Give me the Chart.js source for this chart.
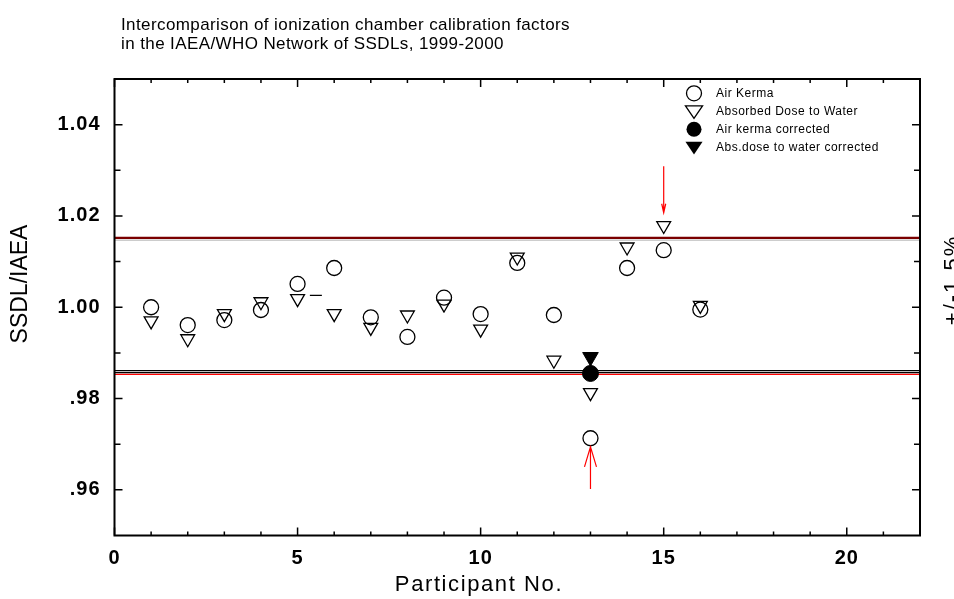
<!DOCTYPE html>
<html><head><meta charset="utf-8">
<script src="https://cdn.jsdelivr.net/npm/chart.js@4"></script>
<style>html,body{margin:0;padding:0;background:#fff}#wrap{width:954px;height:599px;position:relative}</style>
</head><body><div id="wrap"><canvas id="c"></canvas></div>
<script>
// ---- data ----
const participants = [1,2,3,4,5,6,7,8,9,10,11,12,13,14,15,16];
const airKerma = [1.0000,0.9961,0.9972,0.9994,1.0051,1.0086,0.9978,0.9935,1.0021,0.9985,1.0097,0.9983,0.9713,1.0086,1.0125,0.9995];
const absDoseWater = [0.9970,0.9931,0.9986,1.0012,1.0019,0.9986,0.9956,0.9983,1.0007,0.9952,1.0110,0.9884,0.9813,1.0132,1.0179,1.0004];
const correctedX = [13];
const airKermaCorrected = [0.9855];
const absDoseCorrected = [0.9891];
const dashX = [5.5];
const dashY = [1.0026];
const refLineValues = [1.0147, 1.0152, 0.9861, 0.9857, 0.9853];
const arrowX = [15, 13];
const arrowFrom = [1.0309, 0.9602];
const arrowTo = [1.0207, 0.9694];
const xTickValues = [0,5,10,15,20];
const xTickLabels = ['0','5','10','15','20'];
const yTickValues = [0.96,0.98,1.00,1.02,1.04];
const yTickLabels = ['.96','.98','1.00','1.02','1.04'];
const titleLines = ['Intercomparison of ionization chamber calibration factors','in the IAEA/WHO Network of SSDLs, 1999-2000'];
const xTitle = 'Participant No.';
const yTitle = 'SSDL/IAEA';
const rightTitle = '+/-1.5%';
const legendLabels = ['Air Kerma','Absorbed Dose to Water','Air kerma corrected','Abs.dose to water corrected'];

const FONT = '"Liberation Sans", Arial, Helvetica, sans-serif';
const refColors = ['#b0b0b0','#7a0000','#000000','#000000','#ff0000'];
const refWidths = [1, 2.2, 1.2, 1.2, 1.2];

const pts = (xs, ys) => xs.map((x,i)=>({x, y: ys[i]}));
const datasets = [
  {label: legendLabels[0], data: pts(participants, airKerma), pointStyle:'circle', pointRadius:7.5, pointBorderWidth:1.3, pointBorderColor:'#000', pointBackgroundColor:'rgba(0,0,0,0)', showLine:false, order:1},
  {label: legendLabels[1], data: pts(participants, absDoseWater), pointStyle:'triangle', pointRotation:180, pointRadius:8, pointBorderWidth:1.3, pointBorderColor:'#000', pointBackgroundColor:'rgba(0,0,0,0)', showLine:false, order:1},
  {label: legendLabels[2], data: pts(correctedX, airKermaCorrected), pointStyle:'circle', pointRadius:8, pointBorderWidth:1, pointBorderColor:'#000', pointBackgroundColor:'#000', showLine:false, order:0},
  {label: legendLabels[3], data: pts(correctedX, absDoseCorrected), pointStyle:'triangle', pointRotation:180, pointRadius:9, pointBorderWidth:1, pointBorderColor:'#000', pointBackgroundColor:'#000', showLine:false, order:0},
  {label: 'dash', data: pts(dashX, dashY), pointStyle:'line', pointRadius:6, pointBorderWidth:1.3, pointBorderColor:'#000', showLine:false, order:1},
];
refLineValues.forEach((v,i)=>{
  datasets.push({label:'ref'+i, data:[{x:0,y:v},{x:22,y:v}], showLine:true, borderColor:refColors[i], borderWidth:refWidths[i], pointRadius:0, order:10+i});
});

const AREA = {left:114.5, right:920, top:79, bottom:535.5};

const framePlugin = {
  id:'frame',
  beforeDraw(chart){ chart.ctx.letterSpacing = '1px'; },
  afterDatasetsDraw(chart){
    const ctx = chart.ctx, a = chart.chartArea, xs = chart.scales.x, ys = chart.scales.y;
    ctx.save();
    // arrows
    ctx.strokeStyle = '#ff0000'; ctx.lineWidth = 1.2;
    arrowX.forEach((xv,i)=>{
      const px = xs.getPixelForValue(xv), p0 = ys.getPixelForValue(arrowFrom[i]), p1 = ys.getPixelForValue(arrowTo[i]);
      const dir = Math.sign(p1 - p0);
      const hw = i===0 ? 2 : 6, hl = i===0 ? 9 : 20;
      ctx.beginPath(); ctx.moveTo(px,p0); ctx.lineTo(px,p1);
      ctx.moveTo(px-hw, p1 - dir*hl); ctx.lineTo(px,p1); ctx.lineTo(px+hw, p1 - dir*hl);
      ctx.stroke();
    });
    // frame
    ctx.strokeStyle = '#000'; ctx.lineWidth = 2;
    ctx.strokeRect(a.left, a.top, a.right-a.left, a.bottom-a.top);
    ctx.lineWidth = 1.5;
    ctx.beginPath();
    for (let v=0; v<=22; v++){
      const px = xs.getPixelForValue(v); const L = v%5===0 ? 8 : 4;
      ctx.moveTo(px, a.bottom); ctx.lineTo(px, a.bottom-L);
      ctx.moveTo(px, a.top); ctx.lineTo(px, a.top+L);
    }
    for (let k=96; k<=104; k++){
      const py = ys.getPixelForValue(k/100); const L = k%2===0 ? 8 : 6;
      ctx.moveTo(a.left, py); ctx.lineTo(a.left+L, py);
      ctx.moveTo(a.right, py); ctx.lineTo(a.right-L, py);
    }
    ctx.stroke();
    ctx.restore();
  },
  afterDraw(chart){
    const ctx = chart.ctx, a = chart.chartArea;
    ctx.save();
    ctx.fillStyle = '#000';
    // title
    ctx.font = '17px ' + FONT; ctx.letterSpacing = '0.4px';
    ctx.textAlign = 'left'; ctx.textBaseline = 'alphabetic';
    ctx.fillText(titleLines[0], 121, 30);
    ctx.fillText(titleLines[1], 121, 49);
    // x title
    ctx.font = '22px ' + FONT; ctx.letterSpacing = '1.6px';
    ctx.textAlign = 'center'; ctx.textBaseline = 'middle';
    ctx.fillText(xTitle, 479, 585);
    // y title
    ctx.save(); ctx.translate(21, 284); ctx.rotate(-Math.PI/2);
    ctx.font = '23px ' + FONT; ctx.letterSpacing = '0px';
    ctx.fillText(yTitle, 0, 0); ctx.restore();
    // right title
    ctx.save(); ctx.translate(953, 280); ctx.rotate(-Math.PI/2);
    ctx.font = '22px ' + FONT; ctx.letterSpacing = '2px';
    ctx.fillText(rightTitle, 0, 0); ctx.restore();
    // legend
    const lx = 694, rows = [93.3, 111.7, 129.3, 147.7];
    ctx.lineWidth = 1.3; ctx.strokeStyle = '#000';
    rows.forEach((ry,i)=>{
      ctx.beginPath();
      if (i===0 || i===2){ ctx.arc(lx, ry, 7.5, 0, Math.PI*2); }
      else { const r = 9; ctx.moveTo(lx, ry + r*0.75); ctx.lineTo(lx - r*0.95, ry - r*0.65); ctx.lineTo(lx + r*0.95, ry - r*0.65); ctx.closePath(); }
      if (i>=2) ctx.fill(); else ctx.stroke();
    });
    ctx.font = '12px ' + FONT; ctx.letterSpacing = '0.5px';
    ctx.textAlign = 'left'; ctx.textBaseline = 'middle';
    rows.forEach((ry,i)=> ctx.fillText(legendLabels[i], 716, ry));
    ctx.restore();
    ctx.letterSpacing = '0px';
  }
};

new Chart(document.getElementById('c'), {
  type:'scatter',
  data:{datasets},
  options:{
    responsive:true, maintainAspectRatio:false, animation:false, devicePixelRatio:1,
    layout:{padding:{top:AREA.top, right:954-AREA.right, left:0, bottom:0}},
    plugins:{legend:{display:false}, title:{display:false}, tooltip:{enabled:false}},
    scales:{
      x:{type:'linear', min:0, max:22, grid:{display:false, drawTicks:false}, border:{display:false},
         afterBuildTicks(s){ s.ticks = xTickValues.map(v=>({value:v})); },
         afterFit(s){ s.height = 599 - AREA.bottom; },
         ticks:{callback:(v,i)=>xTickLabels[i], font:{family:FONT, size:20, weight:'bold'}, color:'#000', padding:11, maxRotation:0, autoSkip:false}},
      y:{type:'linear', min:0.95, max:1.05, grid:{display:false, drawTicks:false}, border:{display:false},
         afterBuildTicks(s){ s.ticks = yTickValues.map(v=>({value:v})); },
         afterFit(s){ s.width = AREA.left; },
         ticks:{callback:(v,i)=>yTickLabels[i], font:{family:FONT, size:20, weight:'bold'}, color:'#000', padding:14, autoSkip:false}}
    }
  },
  plugins:[framePlugin]
});
</script></body></html>
